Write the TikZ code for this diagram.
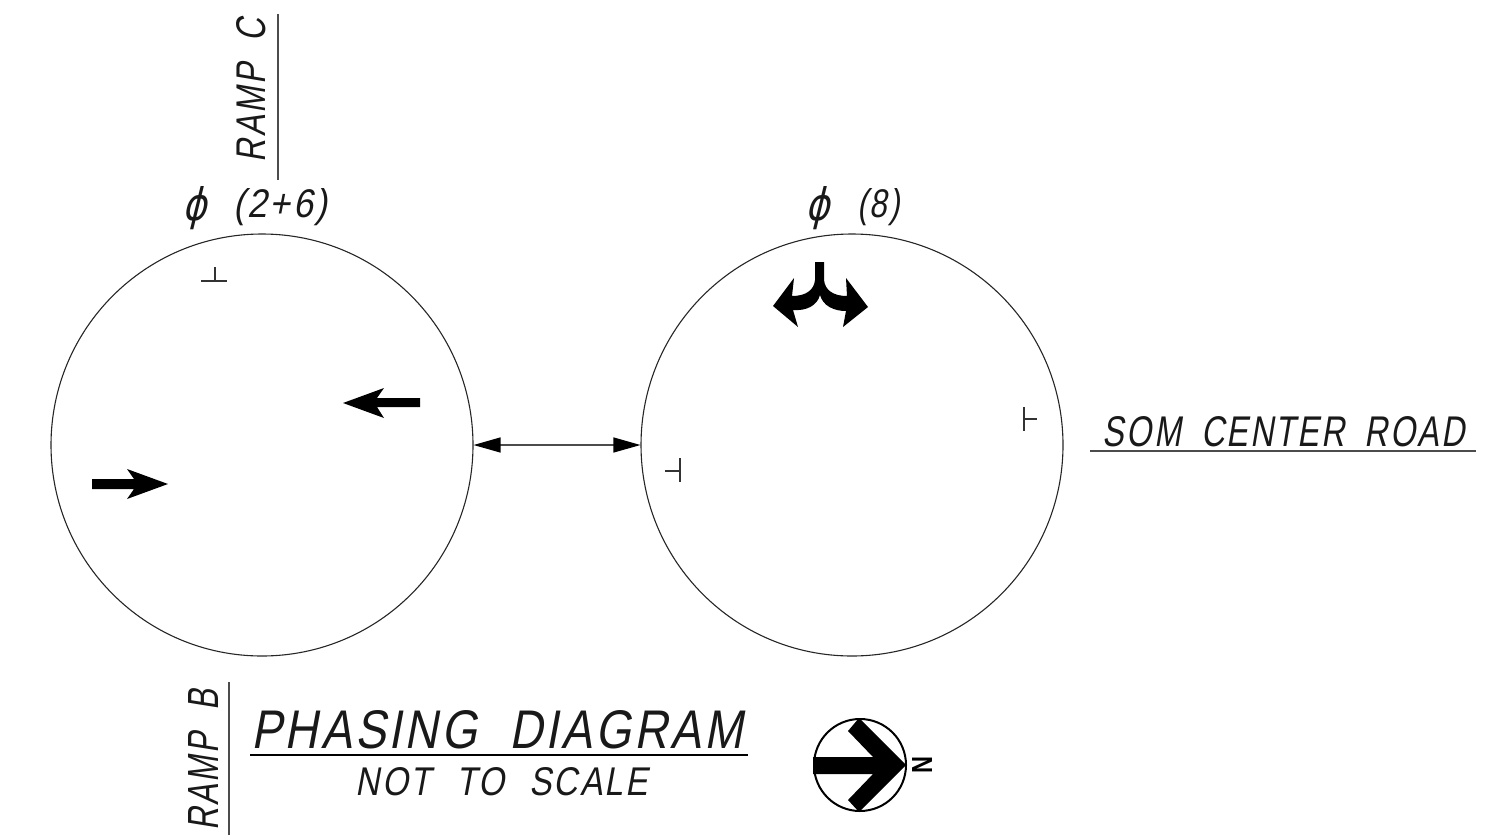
\documentclass[tikz,border=0pt]{standalone}
\usepackage{fontspec}
\usepackage{graphicx}
\usetikzlibrary{arrows.meta}
\newfontfamily\cad{Liberation Sans}[FakeSlant=0.22,LetterSpace=7]
\newfontfamily\symb{DejaVu Sans}[FakeSlant=0.3]
\tikzset{
  phasecircle/.style={circle,draw=black!85,line width=1.1pt,minimum size=422pt,inner sep=0pt},
  thinline/.style={draw=black!70,line width=1.2pt},
  cadtext/.style={inner sep=0pt,text=black!90,font=\cad\fontsize{20}{20}\selectfont},
  solidshape/.style={fill=black,draw=none},
  tick/.style={draw=black!80,line width=1.1pt},
  headtip/.tip={Triangle[length=27pt,width=15pt,black]},
}
\begin{document}
\begin{tikzpicture}[x=1pt,y=-1pt]
\useasboundingbox (0,0) rectangle (1503,835);
% circles
\node[phasecircle] (left) at (262,445) {};
\node[phasecircle] (right) at (852,445) {};
\draw[thinline,headtip-headtip] (left.east) -- (right.west);
% phase labels
\node[cadtext,anchor=base west] (p26) at (182,217) {\raisebox{-3pt}{\resizebox{24pt}{34pt}{\symb ϕ}}\hspace{27pt}\resizebox{94pt}{29pt}{(2+6)}};
\node[cadtext,anchor=base west] (p8) at (805,217) {\raisebox{-3pt}{\resizebox{24pt}{34pt}{\symb ϕ}}\hspace{28pt}\resizebox{43pt}{29pt}{(8)}};
% ramp C
\node[cadtext,rotate=90,anchor=center] (rampc) at (251,90) {\resizebox{144pt}{29pt}{RAMP\hspace{0.7em}C}};
\coordinate (rc1) at (278,14); \coordinate (rc2) at (278,180);
\draw[thinline] (rc1) -- (rc2);
% ramp B
\node[cadtext,rotate=90,anchor=center] (rampb) at (203,760) {\resizebox{141pt}{30pt}{RAMP\hspace{0.7em}B}};
\coordinate (rb1) at (229,682); \coordinate (rb2) at (229,835);
\draw[thinline] (rb1) -- (rb2);
% road
\node[cadtext] (road) at (1284,432) {\resizebox{362pt}{30pt}{SOM\hspace{0.62em}CENTER\hspace{0.62em}ROAD}};
\coordinate (road1) at (1090,451); \coordinate (road2) at (1476,451);
\draw[thinline] (road1) -- (road2);
% title
\node[cadtext] (title) at (497,730) {\resizebox{492pt}{38pt}{PHASING\hspace{0.7em}DIAGRAM}};
\coordinate (t1) at (250,755); \coordinate (t2) at (748,755);
\draw[draw=black,line width=2pt] (t1) -- (t2);
\node[cadtext] (sub) at (502,782) {\resizebox{292pt}{28pt}{NOT\hspace{0.75em}TO\hspace{0.75em}SCALE}};
% ticks
\draw[tick] (215,267) -- (215,281) (201,281) -- (227,281);
\draw[tick] (1024,407) -- (1024,431) (1024,419) -- (1037,419);
\draw[tick] (680,458) -- (680,482) (665,471) -- (680,471);
% through arrows
\fill[solidshape] (420,398) -- (377,398) -- (384,388) -- (343,403) -- (384,418) -- (377,407) -- (420,407) -- cycle;
\fill[solidshape] (92,479) -- (134,479) -- (127,469) -- (168,484) -- (127,499) -- (134,489) -- (92,489) -- cycle;
% fork arrow
\fill[solidshape] (815,262) -- (824,262) -- (824,280)
  .. controls (825,290) and (833,296) .. (847,296)
  -- (846,278) -- (868,307) -- (843,327) -- (846,311)
  .. controls (834,311) and (823,306) .. (820,295)
  .. controls (817,306) and (806,311) .. (793,310)
  -- (798,327) -- (773,306) -- (794,278) -- (792,296)
  .. controls (806,296) and (814,290) .. (815,280) -- cycle;
% north arrow
\node[circle,draw=black,line width=2pt,minimum size=92pt,inner sep=0pt] (north) at (860,765) {};
\fill[solidshape] (813,757) -- (873,757) -- (848,731) -- (859,718) -- (906,765) -- (859,812) -- (848,800) -- (873,774) -- (813,774) -- cycle;
\node[inner sep=0pt,rotate=-90,text=black,font=\fontspec{Liberation Sans Bold}\fontsize{20}{20}\selectfont] (northn) at (922,765) {\resizebox{17pt}{20pt}{N}};
\end{tikzpicture}
\end{document}
